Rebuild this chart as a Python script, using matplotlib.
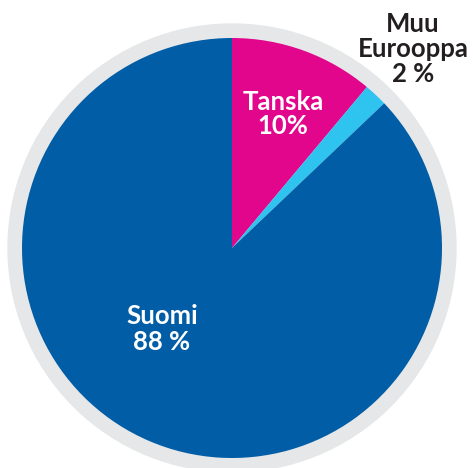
import matplotlib
matplotlib.use("Agg")
import matplotlib.pyplot as plt
from matplotlib.patches import Circle

categories = ["Tanska", "Muu Eurooppa", "Suomi"]
values = [11.1, 1.8, 87.1]
label_texts = ["Tanska\n10%", "Muu\nEurooppa\n2 %", "Suomi\n88 %"]
colors = ["#E2068C", "#2FC3EF", "#005DA6"]

W, H = 473, 468
fig = plt.figure(figsize=(W / 100, H / 100), dpi=100)
ax = fig.add_axes([0, 0, 1, 1])

cx, cy, r = 232, H - 248, 210
ax.add_patch(Circle((cx, cy), 224, color="#E6E7E8", zorder=0))
ax.pie(values, colors=colors, startangle=90, counterclock=False,
       center=(cx, cy), radius=r, wedgeprops=dict(linewidth=0))

font = ["Lato", "DejaVu Sans"]
fs = 18.5
ls = 1.05
ax.text(283, H - 114, label_texts[0], color="white", ha="center", va="center",
        fontsize=fs, fontweight="bold", family=font, linespacing=ls)
ax.text(413, H - 49, label_texts[1], color="#231F20", ha="center", va="center",
        fontsize=fs, fontweight="bold", family=font, linespacing=ls)
ax.text(162, H - 329, label_texts[2], color="white", ha="center", va="center",
        fontsize=fs, fontweight="bold", family=font, linespacing=ls)

ax.set_xlim(0, W)
ax.set_ylim(0, H)
ax.set_aspect("equal")
ax.axis("off")
fig.savefig("out.png", dpi=100)
